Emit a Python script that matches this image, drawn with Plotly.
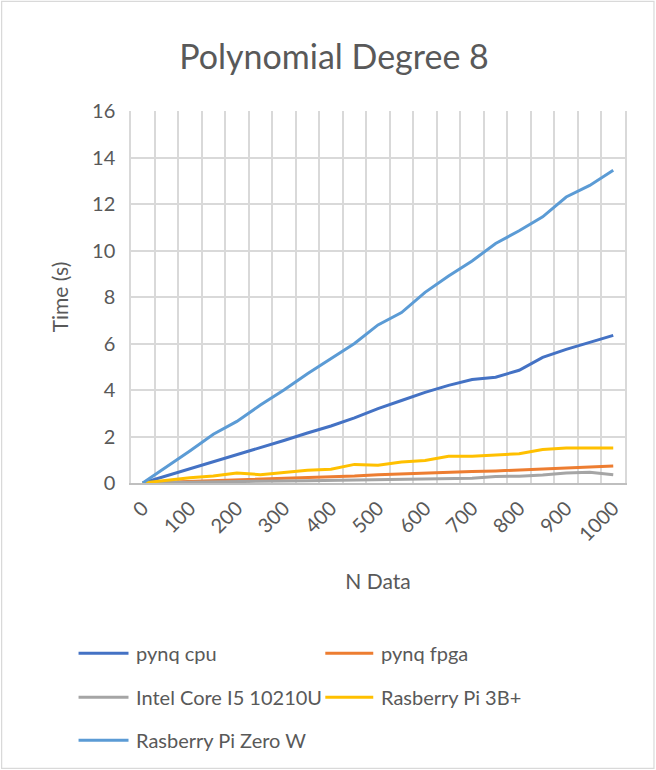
import plotly.graph_objects as go

# Number of data points (x categories)
n_data = [0, 50, 100, 150, 200, 250, 300, 350, 400, 450, 500,
          550, 600, 650, 700, 750, 800, 850, 900, 950, 1000]
x_tick_labels = ["0", "100", "200", "300", "400", "500",
                 "600", "700", "800", "900", "1000"]

# Execution times in seconds
pynq_cpu = [0, 0.3, 0.6, 0.92, 1.22, 1.52, 1.83, 2.15, 2.45, 2.8, 3.2,
            3.55, 3.9, 4.2, 4.45, 4.55, 4.85, 5.4, 5.75, 6.05, 6.35]
pynq_fpga = [0, 0.03, 0.07, 0.1, 0.13, 0.16, 0.2, 0.23, 0.27, 0.3, 0.36,
             0.4, 0.43, 0.46, 0.5, 0.52, 0.56, 0.6, 0.66, 0.68, 0.73]
intel_i5 = [0, 0.02, 0.04, 0.05, 0.07, 0.08, 0.09, 0.1, 0.11, 0.12, 0.14,
            0.15, 0.17, 0.18, 0.2, 0.28, 0.29, 0.34, 0.43, 0.46, 0.35]
rpi_3b = [0, 0.12, 0.23, 0.3, 0.43, 0.36, 0.45, 0.55, 0.59, 0.8, 0.76,
          0.9, 0.97, 1.15, 1.15, 1.19, 1.26, 1.44, 1.51, 1.51, 1.51]
rpi_zero = [0, 0.68, 1.38, 2.1, 2.65, 3.35, 4.0, 4.7, 5.35, 6.0, 6.8,
            7.33, 8.2, 8.9, 9.55, 10.3, 10.85, 11.45, 12.3, 12.8, 13.45]

series_names = ["pynq cpu", "pynq fpga", "Intel Core I5 10210U",
                "Rasberry Pi 3B+", "Rasberry Pi Zero W"]
series_values = [pynq_cpu, pynq_fpga, intel_i5, rpi_3b, rpi_zero]
series_colors = ["#4472C4", "#ED7D31", "#A5A5A5", "#FFC000", "#5B9BD5"]

W, H = 656, 770
ML, MR, MT, MB = 130.5, 31, 110.7, 287.3
PW, PH = W - ML - MR, H - MT - MB
FONT = "Lato"
TXT = "#595959"
GRID = "#D9D9D9"

fig = go.Figure()

for name, vals, col in zip(series_names, series_values, series_colors):
    fig.add_trace(go.Scatter(x=n_data, y=vals, name=name, mode="lines",
                             line=dict(color=col, width=3),
                             showlegend=False))


def px_x(px):
    return (px - ML) / PW


def px_y(py):
    return 1 - (py - MT) / PH


shapes = []
annotations = []

# legend laid out in two columns below the plot
legend_rows = [653, 697, 740]
legend_cols = [(78, 128), (325, 373)]
for i, (name, col) in enumerate(zip(series_names, series_colors)):
    r, c = divmod(i, 2)
    x0, x1 = legend_cols[c]
    yy = px_y(legend_rows[r])
    shapes.append(dict(type="line", xref="paper", yref="paper",
                       x0=px_x(x0), x1=px_x(x1), y0=yy, y1=yy,
                       line=dict(color=col, width=3)))
    annotations.append(dict(text=name, xref="paper", yref="paper",
                            x=px_x(x1 + 6), y=yy, xanchor="left",
                            yanchor="middle", showarrow=False,
                            font=dict(family=FONT, size=20, color=TXT)))

# chart area border
shapes.append(dict(type="rect", xref="paper", yref="paper",
                   x0=px_x(1), x1=px_x(W - 2), y0=px_y(1), y1=px_y(H - 2),
                   line=dict(color=GRID, width=1.2), layer="below"))

fig.update_layout(
    width=W, height=H,
    margin=dict(l=ML, r=MR, t=MT, b=MB, pad=0),
    paper_bgcolor="white", plot_bgcolor="white",
    title=dict(text="Polynomial Degree 8", x=334 / W, xanchor="center",
               y=1 - 57 / H, yanchor="middle",
               font=dict(family=FONT, size=34, color=TXT)),
    font=dict(family=FONT, color=TXT),
    shapes=shapes, annotations=annotations,
    xaxis=dict(range=[-25, 1025], tickmode="array",
               tickvals=n_data[::2], ticktext=x_tick_labels,
               tickangle=-45, showgrid=False, zeroline=False,
               showline=True, linecolor="#BFBFBF", linewidth=1.5,
               ticks="", ticklabelstandoff=4,
               tickfont=dict(family=FONT, size=20, color=TXT),
               minor=dict(tick0=-25, dtick=50, showgrid=True,
                          gridcolor=GRID, gridwidth=1.5),
               title=dict(text="N Data", standoff=30,
                          font=dict(family=FONT, size=21, color=TXT))),
    yaxis=dict(range=[0, 16], dtick=2, showgrid=True, gridcolor=GRID,
               gridwidth=1.5, zeroline=False, showline=True,
               linecolor=GRID, linewidth=1.5, mirror=True, ticks="",
               ticklabelstandoff=10,
               tickfont=dict(family=FONT, size=20, color=TXT),
               title=dict(text="Time (s)", standoff=18,
                          font=dict(family=FONT, size=21, color=TXT))),
)

fig.write_html("out.html")
